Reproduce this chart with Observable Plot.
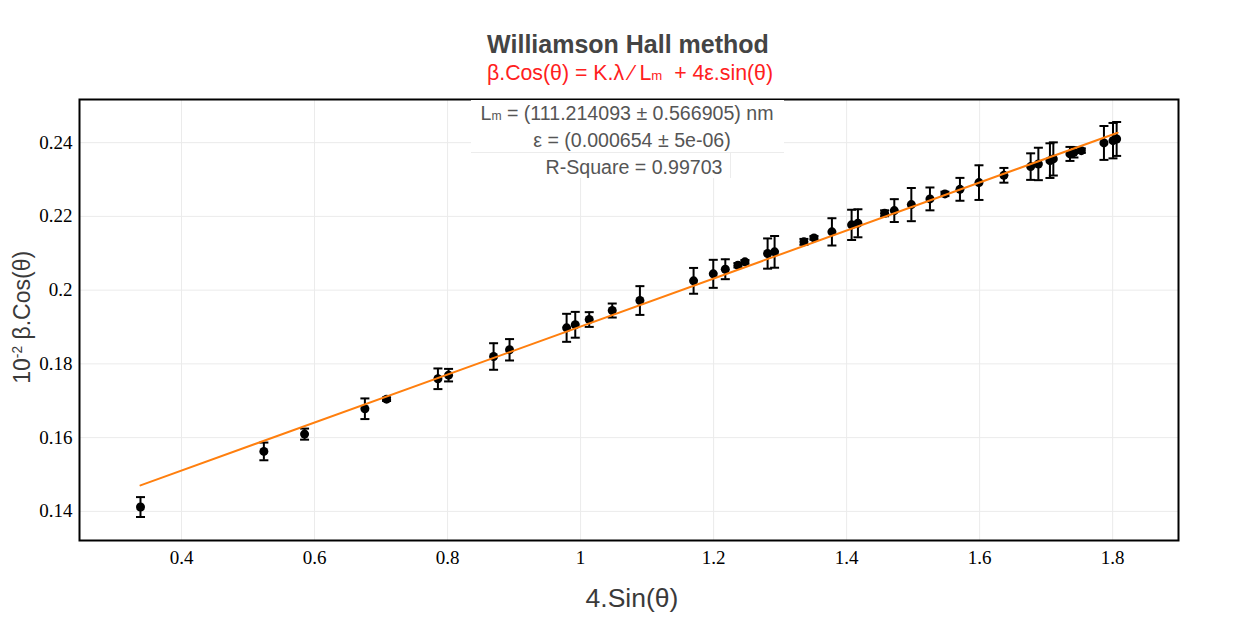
<!DOCTYPE html>
<html>
<head>
<meta charset="utf-8">
<script src="https://cdn.jsdelivr.net/npm/d3@7"></script>
<script src="https://cdn.jsdelivr.net/npm/@observablehq/plot@0.6"></script>
<style>
  html, body { margin: 0; padding: 0; background: #fff; }
  #wrap { position: relative; width: 1256px; height: 619px; overflow: hidden; }
  .t { position: absolute; white-space: pre; text-align: center; font-family: "Liberation Sans", Arial, sans-serif; }
</style>
</head>
<body>
<div id="wrap"></div>
<script>
// 4.Sin(θ)
const sinX = [0.3383, 0.5238, 0.5850, 0.6757, 0.7083, 0.7855, 0.8015, 0.8692, 0.8932,
  0.9790, 0.9920, 1.0130, 1.0476, 1.0892, 1.1699, 1.1995, 1.2176, 1.2366, 1.2471,
  1.2812, 1.2917, 1.3358, 1.3509, 1.3779, 1.4075, 1.4170, 1.4571, 1.4717, 1.4973,
  1.5253, 1.5478, 1.5704, 1.5990, 1.6365, 1.6767, 1.6883, 1.7057, 1.7108, 1.7358,
  1.7418, 1.7529, 1.7869, 1.8005, 1.8060];
// 10^-2 β.Cos(θ)
const betaCos = [0.14117, 0.15626, 0.16095, 0.16783, 0.17043, 0.17596, 0.17694, 0.18200, 0.18382,
  0.18978, 0.19060, 0.19203, 0.19447, 0.19718, 0.20252, 0.20442, 0.20567, 0.20675, 0.20767,
  0.20992, 0.21038, 0.21309, 0.21417, 0.21580, 0.21770, 0.21813, 0.22084, 0.22157, 0.22320,
  0.22474, 0.22610, 0.22734, 0.22916, 0.23114, 0.23350, 0.23422, 0.23512, 0.23558, 0.23694,
  0.23737, 0.23783, 0.23992, 0.24054, 0.24100];
// error (half-height)
const errVals = [0.0027, 0.0024, 0.0015, 0.0028, 0.0005, 0.0028, 0.0017, 0.0036, 0.0029,
  0.0038, 0.0035, 0.0020, 0.0019, 0.0039, 0.0035, 0.0038, 0.0027, 0.0006, 0.0005,
  0.0041, 0.0043, 0.0008, 0.0005, 0.0037, 0.0041, 0.0038, 0.0008, 0.0031, 0.0045,
  0.0031, 0.0006, 0.0031, 0.0047, 0.0020, 0.0036, 0.0044, 0.0047, 0.0045, 0.0019,
  0.0014, 0.0006, 0.0046, 0.0048, 0.0046];
// linear fit endpoints
const fitX = [0.3383, 1.8075];
const fitY = [0.14705, 0.2427];

const xTicks = [0.4, 0.6, 0.8, 1.0, 1.2, 1.4, 1.6, 1.8];
const yTicks = [0.14, 0.16, 0.18, 0.20, 0.22, 0.24];

const pts = sinX.map((x, i) => ({x, y: betaCos[i], e: errVals[i]}));
const fit = fitX.map((x, i) => ({x, y: fitY[i]}));

const cap = {
  draw(ctx, size) {
    const w = Math.sqrt(size / Math.PI);
    ctx.moveTo(-w, 0);
    ctx.lineTo(w, 0);
  }
};

const chart = Plot.plot({
  width: 1256,
  height: 619,
  marginLeft: 79,
  marginRight: 78,
  marginTop: 99,
  marginBottom: 79,
  style: {fontFamily: "'Liberation Serif', 'DejaVu Serif', serif", fontSize: "19px", color: "black", background: "transparent", overflow: "visible"},
  x: {domain: [0.2466, 1.899]},
  y: {domain: [0.1321, 0.2517]},
  marks: [
    Plot.gridX(xTicks, {stroke: "#ebebeb", strokeOpacity: 1, strokeWidth: 1}),
    Plot.gridY(yTicks, {stroke: "#ebebeb", strokeOpacity: 1, strokeWidth: 1}),
    Plot.axisX(xTicks, {tickSize: 0, tickPadding: 10, tickFormat: d => String(+d.toFixed(1)), label: null, fontSize: 19}),
    Plot.axisY(yTicks, {tickSize: 0, tickPadding: 7, tickFormat: d => String(+d.toFixed(2)), label: null, fontSize: 19}),
    Plot.ruleX(pts, {x: "x", y1: d => d.y - d.e, y2: d => d.y + d.e, stroke: "black", strokeWidth: 2}),
    Plot.dot(pts, {x: "x", y: d => d.y + d.e, symbol: cap, r: 4.5, stroke: "black", fill: "none", strokeWidth: 2}),
    Plot.dot(pts, {x: "x", y: d => d.y - d.e, symbol: cap, r: 4.5, stroke: "black", fill: "none", strokeWidth: 2}),
    Plot.dot(pts, {x: "x", y: "y", r: 4.5, fill: "black", stroke: "none"}),
    Plot.line(fit, {x: "x", y: "y", stroke: "#ff7f0e", strokeWidth: 2}),
    Plot.frame({stroke: "black", strokeWidth: 2})
  ]
});

const wrap = document.getElementById("wrap");
chart.style.position = "absolute";
chart.style.left = "0px";
chart.style.top = "0px";
wrap.appendChild(chart);

function addDiv(html, css) {
  const d = document.createElement("div");
  d.className = "t";
  d.innerHTML = html;
  Object.assign(d.style, css);
  wrap.appendChild(d);
  return d;
}

// annotation boxes (cover gridlines)
addDiv("", {left: "471px", top: "100px", width: "313px", height: "52px", background: "#fff", borderBottom: "1px solid #ececec"});
addDiv("", {left: "545px", top: "153px", width: "185px", height: "25px", background: "#fff", borderRight: "1px solid #ececec"});

// title & subtitle
addDiv("Williamson Hall method", {left: "0px", width: "1256px", top: "30px", lineHeight: "28px", fontSize: "25px", fontWeight: "bold", color: "#444"});
addDiv("β.Cos(θ) = K.λ ⁄ L<span style='font-size:0.62em'>m</span>  + 4ε.sin(θ)", {left: "2px", width: "1256px", top: "60px", lineHeight: "26px", fontSize: "21.3px", color: "#ff2020"});

// annotation text
addDiv("L<span style='font-size:0.62em'>m</span> = (111.214093 ± 0.566905) nm", {left: "327px", width: "600px", top: "99.5px", lineHeight: "27px", fontSize: "19.6px", color: "#555"});
addDiv("ε = (0.000654 ± 5e-06)", {left: "332px", width: "600px", top: "126.5px", lineHeight: "27px", fontSize: "19.6px", color: "#555"});
addDiv("R-Square = 0.99703", {left: "334px", width: "600px", top: "153.5px", lineHeight: "27px", fontSize: "19.6px", color: "#555"});

// axis titles
addDiv("4.Sin(θ)", {left: "332px", width: "600px", top: "582px", lineHeight: "32px", fontSize: "26.5px", color: "#3a3a3a"});
addDiv("10<sup style='font-size:0.6em'>-2</sup> β.Cos(θ)", {left: "-280px", width: "600px", top: "300px", lineHeight: "30px", fontSize: "23px", color: "#3a3a3a", transform: "rotate(-90deg)"});
</script>
</body>
</html>
